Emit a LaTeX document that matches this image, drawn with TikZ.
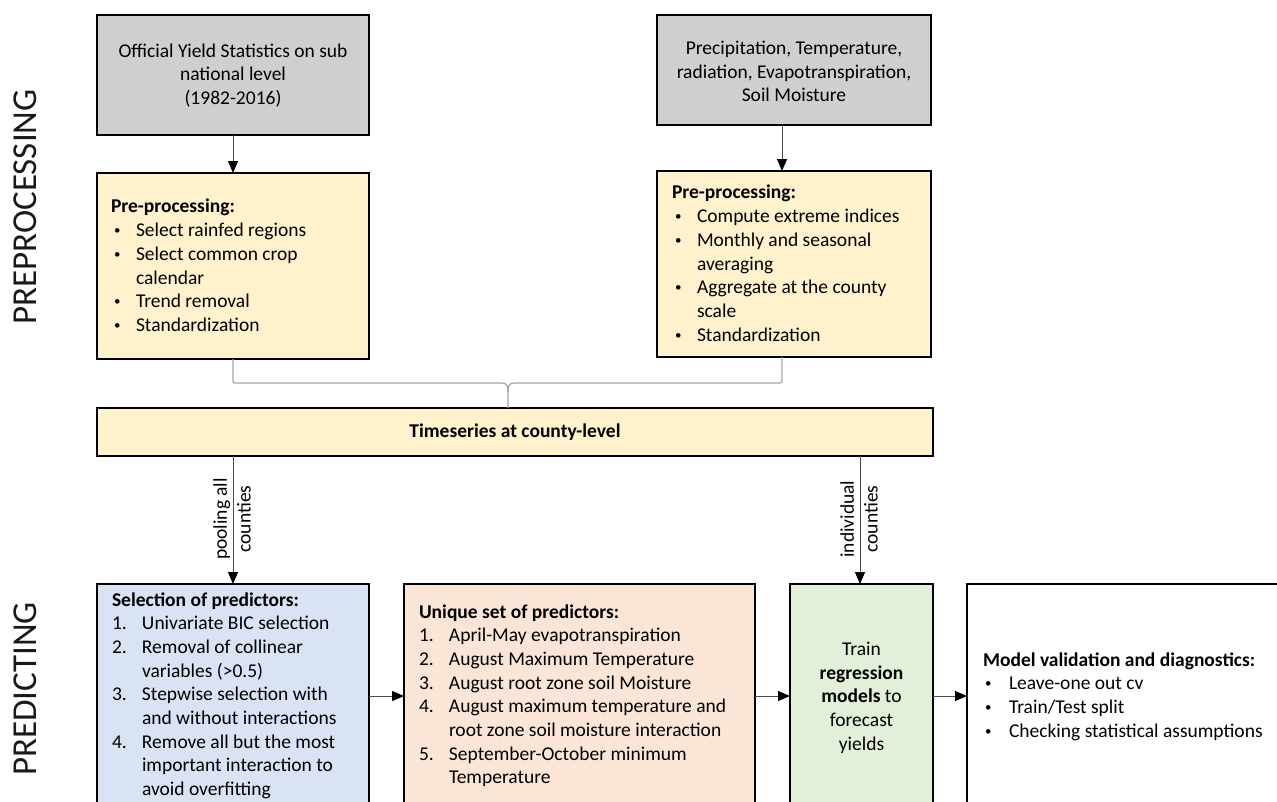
\documentclass[tikz,border=0pt]{standalone}
\usepackage{fontspec}
\setmainfont{Carlito}
\usetikzlibrary{arrows.meta}
\definecolor{boxgray}{HTML}{D0CECE}
\definecolor{boxyellow}{HTML}{FFF2CC}
\definecolor{boxblue}{HTML}{DAE3F3}
\definecolor{boxorange}{HTML}{FBE5D6}
\definecolor{boxgreen}{HTML}{E2F0D9}
\definecolor{bracegray}{HTML}{A6A6A6}
\newcommand\smallbul{\raisebox{2pt}{\fontsize{13}{13}\selectfont\textbullet}}
\newcommand\mybul{\makebox[25pt][l]{\hspace{3pt}\smallbul}}
\newcommand\myind{\hspace*{25pt}}
\newcommand\mywbul{\makebox[26pt][l]{\hspace{2pt}\smallbul}}
\newcommand\mynum[1]{\makebox[30pt][l]{#1}}
\newcommand\mynind{\hspace*{30pt}}
\tikzset{
  every node/.style={inner sep=0pt, outer sep=0pt},
  boxnode/.style={draw=black, line width=2pt, rectangle},
  txt/.style={align=left, anchor=north west, text=black},
  ctxt/.style={align=center, text=black},
  arr/.style={draw=black!70, line width=1pt, -{Triangle[width=10pt,length=12pt,color=black]}},
  bracepath/.style={draw=bracegray, line width=1.2pt},
  sidelabel/.style={rotate=90, font=\fontsize{35}{40}\selectfont, text=black!90}
}
\begin{document}
\begin{tikzpicture}[x=1pt,y=-1pt, font=\fontsize{19.5}{23.7}\selectfont]
\useasboundingbox (0,0) rectangle (1277,801);
\begin{scope}
\clip (0,0) rectangle (1277,801);

% side labels
\node[sidelabel] (lpre) at (25,207) {PREPROCESSING};
\node[sidelabel] (lpred) at (25,689) {PREDICTING};

% top gray boxes
\node[boxnode, fill=boxgray, minimum width=272pt, minimum height=120pt] (g1) at (233,75) {};
\node[boxnode, fill=boxgray, minimum width=274pt, minimum height=110pt] (g2) at (794,70) {};
\node[ctxt] (tg1) at (233,74) {\strut Official Yield Statistics on sub\\national level\\(1982-2016)};
\node[ctxt] (tg2) at (794,70) {\strut Precipitation, Temperature,\\radiation, Evapotranspiration,\\Soil Moisture};

% yellow boxes
\node[boxnode, fill=boxyellow, minimum width=272pt, minimum height=186pt] (y1) at (233,266) {};
\node[boxnode, fill=boxyellow, minimum width=274pt, minimum height=186pt] (y2) at (794,264) {};
\node[txt] (ty1) at (111,196.4) {\strut\textbf{Pre-processing:}\\
\mybul Select rainfed regions\\
\mybul Select common crop\\
\myind calendar\\
\mybul Trend removal\\
\mybul Standardization};
\node[txt] (ty2) at (672,182.4) {\strut\textbf{Pre-processing:}\\
\mybul Compute extreme indices\\
\mybul Monthly and seasonal\\
\myind averaging\\
\mybul Aggregate at the county\\
\myind scale\\
\mybul Standardization};

% timeseries box
\node[boxnode, fill=boxyellow, minimum width=836pt, minimum height=48pt] (ts) at (515,432) {};
\node[ctxt] (tts) at (515,432) {\textbf{Timeseries at county-level}};

% bottom boxes
\node[boxnode, fill=boxblue, minimum width=272pt, minimum height=224pt] (bb) at (233,696) {};
\node[boxnode, fill=boxorange, minimum width=351pt, minimum height=224pt] (ob) at (579.5,696) {};
\node[boxnode, fill=boxgreen, minimum width=143pt, minimum height=224pt] (gb) at (861.5,696) {};
\node[boxnode, fill=white, minimum width=323pt, minimum height=224pt] (wb) at (1128.5,696) {};

\node[txt] (tbb) at (112,589.4) {\strut\textbf{Selection of predictors:}\\
\mynum{1.}Univariate BIC selection\\
\mynum{2.}Removal of collinear\\
\mynind variables (>0.5)\\
\mynum{3.}Stepwise selection with\\
\mynind and without interactions\\
\mynum{4.}Remove all but the most\\
\mynind important interaction to\\
\mynind avoid overfitting};
\node[txt] (tob) at (419,601.4) {\strut\textbf{Unique set of predictors:}\\
\mynum{1.}April-May evapotranspiration\\
\mynum{2.}August Maximum Temperature\\
\mynum{3.}August root zone soil Moisture\\
\mynum{4.}August maximum temperature and\\
\mynind root zone soil moisture interaction\\
\mynum{5.}September-October minimum\\
\mynind Temperature};
\node[ctxt] (tgb) at (861.5,696) {\strut Train\\\textbf{regression}\\\textbf{models} to\\forecast\\yields};
\node[txt] (twb) at (983,649.4) {\strut\textbf{Model validation and diagnostics:}\\
\mywbul Leave-one out cv\\
\mywbul Train/Test split\\
\mywbul Checking statistical assumptions};

% arrows top
\coordinate (a2) at (782,0);
\draw[arr] (g1.south) -- (y1.north);
\draw[arr] (g2.south -| a2) -- (y2.north -| a2);

% brace
\coordinate (bm) at (508,392);
\draw[bracepath] (y1.south) -- (233,379) .. controls (233,383) .. (237,383) -- (502,383) .. controls (507,383) and (508,386) .. (bm) -- (ts.north -| bm);
\draw[bracepath] (y2.south -| a2) -- (782,379) .. controls (782,383) .. (778,383) -- (514,383) .. controls (509,383) and (508,386) .. (bm);

% vertical arrows with labels
\coordinate (ind) at (860,0);
\draw[arr] (ts.south -| bb.north) -- (bb.north);
\draw[arr] (ts.south -| ind) -- (gb.north -| ind);
\node[ctxt, rotate=90] (lpool) at (232,519) {pooling all\\counties};
\node[ctxt, rotate=90] (lind) at (859,519) {individual\\counties};

% horizontal arrows
\draw[arr] (bb.east) -- (ob.west);
\draw[arr] (ob.east) -- (gb.west);
\draw[arr] (gb.east) -- (wb.west);
\end{scope}
\end{tikzpicture}
\end{document}
